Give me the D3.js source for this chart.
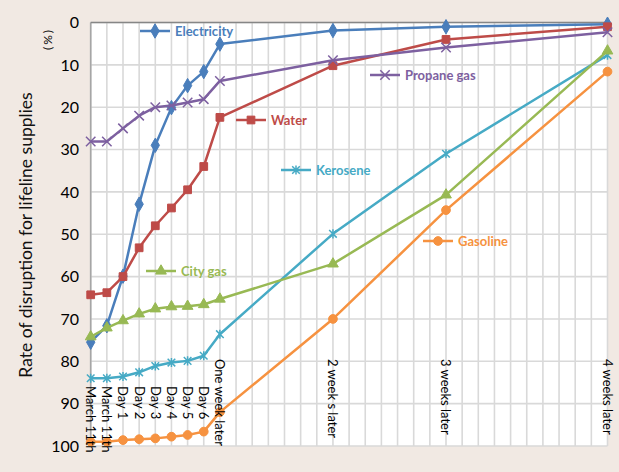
<!DOCTYPE html>
<html>
<head>
<meta charset="utf-8">
<script src="https://cdn.jsdelivr.net/npm/d3@7"></script>
<style>
  body { margin: 0; background: #f1e9e3; }
  svg { display: block; font-family: Lato, "Open Sans", sans-serif; }
</style>
</head>
<body>
<svg width="619" height="472"></svg>
<script>
// categories along the bottom; blank slots in between are unlabelled
var categories = ['March 11th', 'March 11th', 'Day 1', 'Day 2', 'Day 3', 'Day 4', 'Day 5', 'Day 6',
  'One week later', '2 week s later', '3 weeks later', '4 weeks later'];
var catSlots = [0, 1, 2, 3, 4, 5, 6, 7, 8, 15, 22, 32];
var slotCount = 33;

// rate of disruption (%), one value per category
var electricity = [75.5, 71.6, 59.9, 42.9, 29.0, 20.1, 14.9, 11.6, 5.1, 1.9, 1.0, 0.4];
var water       = [64.3, 63.8, 60.0, 53.2, 48.0, 43.8, 39.5, 34.0, 22.4, 10.2, 4.0, 1.0];
var propaneGas  = [28.1, 28.1, 25.0, 22.0, 20.0, 19.6, 18.9, 18.1, 13.8, 8.9, 5.9, 2.3];
var cityGas     = [74.2, 72.1, 70.4, 68.8, 67.6, 67.1, 67.0, 66.6, 65.3, 57.0, 40.7, 6.7];
var kerosene    = [84.0, 84.0, 83.6, 82.6, 81.1, 80.3, 79.9, 78.7, 73.6, 49.9, 31.0, 7.7];
var gasoline    = [99.0, 99.0, 98.6, 98.4, 98.2, 97.8, 97.4, 96.6, 92.0, 70.0, 44.3, 11.6];

var yTicks = [0, 10, 20, 30, 40, 50, 60, 70, 80, 90, 100];

// custom asterisk marker (x plus vertical bar)
var symbolStar = {
  draw: function (ctx, size) {
    var r = Math.sqrt(size) * 0.6;
    ctx.moveTo(-r, -r); ctx.lineTo(r, r);
    ctx.moveTo(-r, r); ctx.lineTo(r, -r);
    ctx.moveTo(0, -r * 1.2); ctx.lineTo(0, r * 1.2);
  }
};

var series = [
  { name: 'Electricity', values: electricity, color: '#4a7ebb', sym: d3.symbolDiamond, size: 60, filled: true, lx: 140, ly: 31 },
  { name: 'Water', values: water, color: '#be4b48', sym: d3.symbolSquare, size: 60, filled: true, lx: 236, ly: 120 },
  { name: 'Propane gas', values: propaneGas, color: '#7d60a0', sym: d3.symbolTimes, size: 60, filled: false, lx: 370, ly: 75 },
  { name: 'Kerosene', values: kerosene, color: '#46aac5', sym: symbolStar, size: 40, filled: false, lx: 281, ly: 170 },
  { name: 'City gas', values: cityGas, color: '#98b954', sym: d3.symbolTriangle, size: 50, filled: true, lx: 146, ly: 271 },
  { name: 'Gasoline', values: gasoline, color: '#f69240', sym: d3.symbolCircle, size: 60, filled: true, lx: 423, ly: 241 }
];

var svg = d3.select('svg');

var x = d3.scaleLinear()
  .domain([0, slotCount - 1])
  .range([90.7, 607.5]);

var y = d3.scaleLinear()
  .domain([0, 100])
  .range([22.5, 446]);

// plot area
svg.append('rect')
  .attr('x', x(0)).attr('y', y(0))
  .attr('width', x(slotCount - 1) - x(0))
  .attr('height', y(100) - y(0))
  .style('fill', '#fff');

// grid
svg.append('g').selectAll('line')
  .data(d3.range(slotCount))
  .enter().append('line')
  .attr('x1', function (d) { return x(d); })
  .attr('x2', function (d) { return x(d); })
  .attr('y1', y(0)).attr('y2', y(100))
  .style('stroke', '#d9d9d9').style('stroke-width', 1.6);

svg.append('g').selectAll('line')
  .data(yTicks)
  .enter().append('line')
  .attr('x1', x(0)).attr('x2', x(slotCount - 1))
  .attr('y1', function (d) { return y(d); })
  .attr('y2', function (d) { return y(d); })
  .style('stroke', '#d9d9d9').style('stroke-width', 1.6);

// axis lines
svg.append('line')
  .attr('x1', x(0)).attr('x2', x(0)).attr('y1', y(0)).attr('y2', y(100))
  .style('stroke', '#a6a6a6').style('stroke-width', 1.6);
svg.append('line')
  .attr('x1', x(0)).attr('x2', x(slotCount - 1)).attr('y1', y(0)).attr('y2', y(0))
  .style('stroke', '#868686').style('stroke-width', 1.6);

// y tick labels
svg.append('g').selectAll('text')
  .data(yTicks)
  .enter().append('text')
  .attr('x', 79)
  .attr('y', function (d) { return y(d); })
  .attr('dy', '.36em')
  .style('text-anchor', 'end')
  .style('font-size', '16px')
  .style('fill', '#000')
  .text(function (d) { return d; });

// axis title and unit
svg.append('text')
  .attr('transform', 'translate(32,235) rotate(-90)')
  .style('text-anchor', 'middle')
  .style('font-size', '17.5px')
  .style('fill', '#111')
  .text('Rate of disruption for lifeline supplies');

svg.append('text')
  .attr('transform', 'translate(52,39) rotate(-90)')
  .style('text-anchor', 'middle')
  .style('font-size', '12px')
  .style('letter-spacing', '2px')
  .style('fill', '#000')
  .text('(%)');

// series lines and markers
var line = d3.line()
  .x(function (d) { return x(d.slot); })
  .y(function (d) { return y(d.v); });

series.forEach(function (s) {
  var pts = s.values.map(function (v, i) { return { slot: catSlots[i], v: v }; });
  var g = svg.append('g');
  g.append('path')
    .datum(pts)
    .attr('d', line)
    .style('fill', 'none')
    .style('stroke', s.color)
    .style('stroke-width', 2.5)
    .style('stroke-linejoin', 'round');
  g.selectAll('path.m')
    .data(pts)
    .enter().append('path')
    .attr('class', 'm')
    .attr('transform', function (d) { return 'translate(' + x(d.slot) + ',' + y(d.v) + ')'; })
    .attr('d', d3.symbol().type(s.sym).size(s.size))
    .style('fill', s.filled ? s.color : 'none')
    .style('stroke', s.color)
    .style('stroke-width', s.filled ? 1 : 1.5);
});

// inline legend entries
series.forEach(function (s) {
  var g = svg.append('g').attr('transform', 'translate(' + s.lx + ',' + s.ly + ')');
  g.append('line')
    .attr('x1', 0).attr('x2', 30)
    .style('stroke', s.color).style('stroke-width', 2.5);
  g.append('path')
    .attr('transform', 'translate(15,0)')
    .attr('d', d3.symbol().type(s.sym).size(s.size))
    .style('fill', s.filled ? s.color : 'none')
    .style('stroke', s.color)
    .style('stroke-width', s.filled ? 1 : 1.5);
  g.append('text')
    .attr('x', 35)
    .attr('dy', '.36em')
    .style('font-size', '13px')
    .style('font-weight', 'bold')
    .style('fill', s.color)
    .text(s.name);
});

// category labels, rotated to read downward
svg.append('g').selectAll('text')
  .data(categories)
  .enter().append('text')
  .attr('transform', function (d, i) {
    var top = d.length > 10 ? 359 : 386;
    return 'translate(' + x(catSlots[i]) + ',' + top + ') rotate(90)';
  })
  .attr('dy', '.35em')
  .style('font-size', '13px')
  .style('fill', '#000')
  .text(function (d) { return d; });
</script>
</body>
</html>
